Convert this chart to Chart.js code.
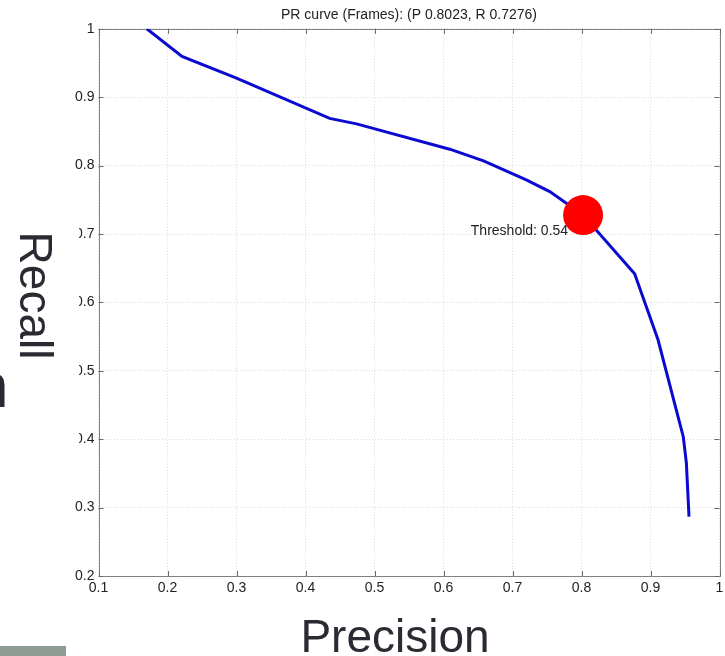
<!DOCTYPE html>
<html>
<head>
<meta charset="utf-8">
<script src="https://cdn.jsdelivr.net/npm/chart.js@4/dist/chart.umd.min.js"></script>
<style>
html,body{margin:0;padding:0;background:#fff;overflow:hidden;}
#wrap{position:relative;width:725px;height:656px;}
canvas{display:block;}
</style>
</head>
<body>
<div id="wrap"><canvas id="c" width="725" height="656"></canvas></div>
<script>
// ---- data ----
const precision = [0.170, 0.221, 0.300, 0.435, 0.474, 0.609, 0.658, 0.720, 0.754, 0.8023, 0.877, 0.904, 0.911, 0.9475, 0.952, 0.9558];
const recall    = [1.000, 0.9595, 0.928, 0.869, 0.861, 0.824, 0.807, 0.779, 0.762, 0.7276, 0.642, 0.565, 0.545, 0.4037, 0.365, 0.2867];
const opPrecision = 0.8023;
const opRecall = 0.7276;
const thresholdText = "Threshold: 0.54";
const titleText = "PR curve (Frames): (P " + opPrecision.toFixed(4) + ", R " + opRecall.toFixed(4) + ")";
const xTicks = [0.1, 0.2, 0.3, 0.4, 0.5, 0.6, 0.7, 0.8, 0.9, 1];
const yTicks = [0.2, 0.3, 0.4, 0.5, 0.6, 0.7, 0.8, 0.9, 1];
const xAxisTitle = "Precision";
const yAxisTitle = "Recall";

const FONT = '"Liberation Sans", Arial, Helvetica, sans-serif';
const fmt = v => (Math.abs(v - 1) < 1e-9 ? "1" : v.toFixed(1));

const curve = precision.map((p, i) => ({x: p, y: recall[i]}));

const decor = {
  id: 'decor',
  beforeDatasetsDraw(chart) {
    const {ctx, chartArea: a, scales: {x, y}} = chart;
    ctx.save();
    ctx.strokeStyle = '#808080';
    ctx.lineWidth = 1;
    ctx.strokeRect(Math.round(a.left) + 0.5, Math.round(a.top) + 0.5,
                   Math.round(a.right - a.left), Math.round(a.bottom - a.top));
    ctx.strokeStyle = '#6a6a6a';
    ctx.beginPath();
    const tl = 5;
    xTicks.forEach(v => {
      const px = Math.round(x.getPixelForValue(v)) + 0.5;
      ctx.moveTo(px, a.bottom); ctx.lineTo(px, a.bottom - tl);
      ctx.moveTo(px, a.top); ctx.lineTo(px, a.top + tl);
    });
    yTicks.forEach(v => {
      const py = Math.round(y.getPixelForValue(v)) + 0.5;
      ctx.moveTo(a.left, py); ctx.lineTo(a.left + tl, py);
      ctx.moveTo(a.right, py); ctx.lineTo(a.right - tl, py);
    });
    ctx.stroke();
    ctx.restore();
  },
  afterDraw(chart) {
    const {ctx, scales: {x, y}} = chart;
    ctx.save();
    // threshold label next to operating point
    const px = x.getPixelForValue(opPrecision), py = y.getPixelForValue(opRecall);
    ctx.fillStyle = '#222';
    ctx.font = '14px ' + FONT;
    ctx.textAlign = 'right';
    ctx.textBaseline = 'alphabetic';
    ctx.fillText(thresholdText, px - 15, py + 20);

    // white panel behind the large y label (clips tick labels, as in the source)
    ctx.fillStyle = '#ffffff';
    ctx.fillRect(0, 198, 79, 278);

    // large axis titles
    ctx.fillStyle = '#2a2a33';
    ctx.font = '46px ' + FONT;
    ctx.textAlign = 'center';
    ctx.textBaseline = 'alphabetic';
    ctx.fillText(xAxisTitle, 395, 652);

    ctx.save();
    ctx.translate(20, 295.5);
    ctx.rotate(Math.PI / 2);
    ctx.font = '46px ' + FONT;
    ctx.fillText(yAxisTitle, 0, 0);
    ctx.restore();

    // partial dark glyph at left edge
    ctx.fillStyle = '#2a2a33';
    ctx.beginPath();
    ctx.moveTo(0, 375);
    ctx.quadraticCurveTo(4, 377, 4.5, 385);
    ctx.lineTo(4.5, 407);
    ctx.lineTo(0, 407);
    ctx.closePath();
    ctx.fill();

    // grey block at bottom-left
    ctx.fillStyle = '#8e9c93';
    ctx.fillRect(0, 646, 66, 10);
    ctx.restore();
  }
};

new Chart(document.getElementById('c'), {
  type: 'scatter',
  data: {
    datasets: [
      {
        data: [{x: opPrecision, y: opRecall}],
        pointRadius: 20,
        pointHoverRadius: 20,
        backgroundColor: '#ff0000',
        borderWidth: 0,
        pointBorderWidth: 0,
        order: 0
      },
      {
        data: curve,
        showLine: true,
        borderColor: '#0a0ad0',
        borderWidth: 3,
        pointRadius: 0,
        tension: 0,
        fill: false,
        order: 1
      }
    ]
  },
  options: {
    responsive: false,
    animation: false,
    devicePixelRatio: 1,
    layout: {autoPadding: false, padding: {left: 0, right: 5.5, top: 0, bottom: 0}},
    plugins: {
      legend: {display: false},
      tooltip: {enabled: false},
      title: {
        display: true,
        text: titleText,
        fullSize: false,
        color: '#222',
        font: {family: FONT, size: 14, weight: 'normal', lineHeight: 1.2},
        padding: {top: 7, bottom: 5}
      }
    },
    scales: {
      x: {
        type: 'linear',
        min: 0.1, max: 1,
        afterBuildTicks: s => { s.ticks = xTicks.map(v => ({value: v})); },
        afterFit: s => { s.height = 80; s.paddingLeft = 0; s.paddingRight = 0; },
        grid: {color: '#d9d9d9', lineWidth: 1, drawTicks: false},
        border: {display: false, dash: [1, 2]},
        ticks: {
          padding: 4, color: '#222', maxRotation: 0, autoSkip: false,
          font: {family: FONT, size: 14},
          callback: v => fmt(v)
        }
      },
      y: {
        type: 'linear',
        min: 0.2, max: 1,
        afterBuildTicks: s => { s.ticks = yTicks.map(v => ({value: v})); },
        afterFit: s => { s.width = 98.5; s.paddingTop = 0; s.paddingBottom = 0; },
        grid: {color: '#d9d9d9', lineWidth: 1, drawTicks: false},
        border: {display: false, dash: [1, 2]},
        ticks: {
          padding: 4, color: '#222', autoSkip: false,
          font: {family: FONT, size: 14},
          callback: v => fmt(v)
        }
      }
    }
  },
  plugins: [decor]
});
</script>
</body>
</html>
